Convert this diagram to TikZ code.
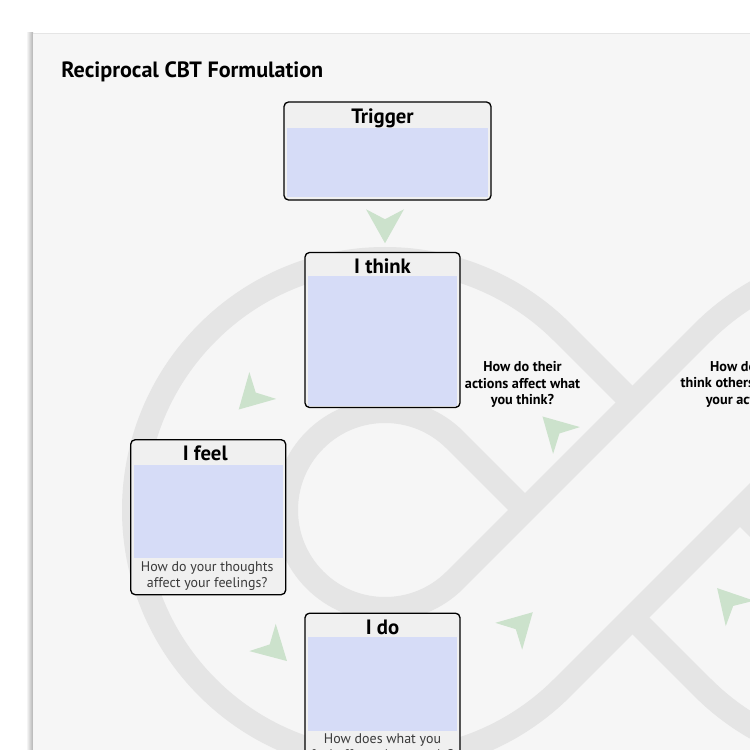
\documentclass[tikz,border=0pt]{standalone}
\usepackage{fontspec}
\setmainfont{PT Sans}
\usetikzlibrary{calc}

\definecolor{pagebg}{RGB}{246,246,246}
\definecolor{bandgray}{RGB}{229,229,229}
\definecolor{boxblue}{RGB}{214,220,247}
\definecolor{boxhead}{RGB}{240,240,240}
\definecolor{headgreen}{RGB}{204,226,204}
\definecolor{notegray}{RGB}{58,58,58}

% green dart, centred on #1, pointing at angle #2
\newcommand{\flowhead}[2]{%
  \fill[flowhead, shift={#1}, rotate=#2]
    (17,0) -- (-17,19) -- (-7,0) -- (-17,-19) -- cycle;}

\begin{document}
\begin{tikzpicture}[
    x=0.02cm,
    y=0.02cm,
    band/.style={draw=bandgray, line width=0.48cm},
    formbox/.style={draw=black, line width=0.75pt, rounded corners=0.09cm,
        fill=boxhead, minimum width=3.1cm, minimum height=3.1cm, inner sep=0pt},
    boxtitle/.style={font=\bfseries\fontsize{11.8}{14}\selectfont, anchor=base, inner sep=0pt},
    boxnote/.style={font=\fontsize{7.95}{9.25}\selectfont, text=notegray,
        align=center, anchor=north, inner sep=0pt},
    question/.style={font=\bfseries\fontsize{8.1}{9.47}\selectfont,
        align=center, anchor=north, inner sep=0pt},
    pagetitle/.style={font=\bfseries\fontsize{12.6}{15}\selectfont, anchor=base west, inner sep=0pt},
    flowhead/.style={fill=headgreen}
]

\useasboundingbox (0,0) rectangle (750,750);
\clip (0,0) rectangle (750,750);

% =========================
% Sheet
% =========================
\fill[white] (0,0) rectangle (750,750);
\shade[left color=white, right color=gray!60] (26,0) rectangle (33,717);
\fill[pagebg] (33,0) rectangle (750,717);
\draw[gray!20, line width=0.3pt] (33,717) -- (750,717);

% =========================
% Figure-eight track
% =========================
% outer left loop, upper edge stops under the crossing strip
\draw[band] (632.5,347.5) -- (562.48,417.48)
    arc[start angle=45, end angle=315, radius=251]
    -- (810,310) arc[start angle=135, end angle=90, radius=99];
% inner left loop, runs on over the crossing
\draw[band] (525,240) -- (455,310)
    arc[start angle=45, end angle=315, radius=99]
    -- (702.5,417.48) arc[start angle=135, end angle=60, radius=251];
% edges of the lower strip past the crossing
\draw[band] (632.5,132.5) -- (702.5,62.52)
    arc[start angle=225, end angle=300, radius=251];
\draw[band] (739.97,240) -- (810,170)
    arc[start angle=225, end angle=270, radius=99];

% =========================
% Title and boxes
% =========================
\node[pagetitle] (title) at (61,672.7) {Reciprocal CBT Formulation};

\node[formbox, minimum width=4.14cm, minimum height=1.96cm] (trigger) at (387.5,599) {};
\node[formbox] (ithink) at (382.5,420) {};
\node[formbox] (ifeel) at (208.2,232.8) {};
\node[formbox] (ido) at (382.5,59.3) {};

\fill[boxblue] ([shift={(3.5,-27)}]trigger.north west) rectangle ([shift={(-3.5,4)}]trigger.south east);
\fill[boxblue] ([shift={(3.5,-24.6)}]ithink.north west) rectangle ([shift={(-3.5,2.5)}]ithink.south east);
\fill[boxblue] ([shift={(3.5,-26)}]ifeel.north west) rectangle ([shift={(-3.5,37)}]ifeel.south east);
\fill[boxblue] ([shift={(3.5,-24)}]ido.north west) rectangle ([shift={(-3.5,38)}]ido.south east);

\node[boxtitle] (trigger-title) at ([shift={(-5,-21.7)}]trigger.north) {Trigger};
\node[boxtitle] (ithink-title) at ([shift={(0,-21.7)}]ithink.north) {I think};
\node[boxtitle] (ifeel-title) at ([shift={(-3,-21.7)}]ifeel.north) {I feel};
\node[boxtitle] (ido-title) at ([shift={(0,-21.7)}]ido.north) {I do};

\node[boxnote] (ifeel-note) at ([shift={(-1,-122)}]ifeel.north) {How do your thoughts\\affect your feelings?};
\node[boxnote] (ido-note) at ([shift={(0,-120.4)}]ido.north) {How does what you\\feel affect what you do?};

% questions on the crossing strips
\node[question] (q-their) at (522.5,389) {How do their\\actions affect what\\you think?};
\node[question] (q-others) at (746,389) {How do you\\think others interpret\\your actions?};

% =========================
% Green arrows
% =========================
\flowhead{($(trigger.south)!0.5!(ithink.north)$)}{-90}
\flowhead{(250.75,352.5)}{225}
\flowhead{(274.75,100.75)}{-44}
\flowhead{(520.75,125.75)}{45}
\flowhead{(554.5,321.5)}{135}
\flowhead{(728.5,149.25)}{132}

\end{tikzpicture}
\end{document}
